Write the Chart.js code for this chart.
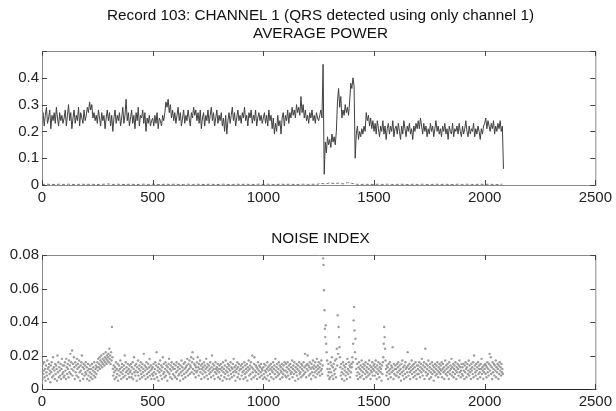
<!DOCTYPE html>
<html>
<head>
<meta charset="utf-8">
<script src="https://cdn.jsdelivr.net/npm/chart.js@4.4.1/dist/chart.umd.min.js"></script>
<style>
  html, body { margin: 0; padding: 0; background: #fff; }
  #wrap { position: relative; width: 616px; height: 411px; overflow: hidden; }
  canvas { position: absolute; left: 0; }
  .ttl { position: absolute; left: 0; width: 641px; text-align: center; font: 15.3px "Liberation Sans", Arial, sans-serif; line-height: 18px; color: #111; white-space: nowrap; }
</style>
</head>
<body>
<div id="wrap">
  <canvas id="c1" width="616" height="215" style="top:0"></canvas>
  <canvas id="c2" width="616" height="196" style="top:215px"></canvas>
  <div class="ttl" style="top:6px">Record 103: CHANNEL 1 (QRS detected using only channel 1)</div>
  <div class="ttl" style="top:24px">AVERAGE POWER</div>
  <div class="ttl" style="top:229px">NOISE INDEX</div>
</div>
<script>
// ---- Data ----
const xTicks = [0, 500, 1000, 1500, 2000, 2500];
const powerTicks = [0, 0.1, 0.2, 0.3, 0.4];
const noiseTicks = [0, 0.02, 0.04, 0.06, 0.08];

// Average power, one block per 100 beats, one value every 5 beats
const powerStep = 5;
const powerBlocks = [
  [.24,.27,.22,.26,.29,.23,.25,.28,.21,.26,.24,.27,.23,.29,.25,.22,.27,.24,.26,.23],
  [.25,.28,.22,.26,.30,.24,.27,.21,.25,.28,.23,.26,.24,.29,.22,.27,.25,.23,.28,.24],
  [.26,.29,.27,.31,.28,.30,.25,.27,.24,.26,.23,.28,.25,.22,.27,.24,.26,.21,.25,.28],
  [.24,.27,.22,.26,.20,.25,.28,.23,.26,.24,.27,.22,.25,.29,.23,.26,.32,.24,.27,.22],
  [.25,.28,.23,.26,.21,.27,.24,.29,.22,.26,.25,.28,.23,.27,.20,.25,.23,.26,.22,.24],
  [.25,.22,.26,.23,.27,.21,.25,.24,.22,.26,.24,.27,.31,.29,.32,.27,.30,.25,.28,.24],
  [.27,.23,.26,.29,.24,.27,.22,.25,.28,.23,.26,.24,.28,.25,.22,.27,.25,.29,.26,.28],
  [.24,.27,.23,.28,.21,.25,.27,.22,.26,.24,.28,.23,.26,.29,.24,.27,.22,.25,.28,.23],
  [.26,.24,.27,.22,.25,.20,.26,.19,.24,.27,.23,.26,.29,.24,.27,.22,.25,.28,.24,.26],
  [.23,.27,.25,.29,.24,.26,.22,.27,.25,.28,.23,.26,.24,.28,.22,.25,.27,.24,.26,.23],
  [.25,.27,.23,.26,.22,.28,.24,.26,.21,.25,.19,.23,.20,.26,.22,.24,.19,.25,.27,.22],
  [.26,.24,.28,.23,.27,.25,.29,.26,.28,.25,.30,.27,.29,.26,.33,.27,.30,.25,.28,.24],
  [.26,.23,.27,.25,.28,.24,.26,.23,.27,.25,.24,.26,.28,.25,.45,.04,.16,.12,.18,.15],
  [.17,.14,.19,.16,.18,.15,.20,.31,.36,.29,.33,.25,.28,.26,.30,.27,.29,.26,.31,.38],
  [.36,.40,.37,.10,.19,.22,.17,.20,.18,.21,.19,.22,.20,.27,.24,.26,.22,.25,.21,.24],
  [.20,.23,.19,.24,.21,.18,.22,.20,.24,.19,.22,.17,.21,.23,.19,.22,.20,.24,.18,.21],
  [.22,.19,.23,.20,.17,.22,.19,.24,.21,.18,.22,.20,.23,.19,.21,.17,.22,.20,.23,.21],
  [.24,.21,.25,.22,.19,.23,.20,.22,.18,.21,.19,.23,.20,.22,.18,.21,.24,.20,.22,.19],
  [.21,.18,.22,.20,.23,.19,.21,.17,.22,.20,.19,.23,.18,.21,.20,.22,.19,.23,.20,.18],
  [.22,.19,.21,.24,.20,.18,.22,.19,.21,.20,.23,.18,.21,.19,.22,.20,.17,.21,.19,.22],
  [.23,.25,.21,.24,.22,.20,.23,.21,.24,.19,.22,.20,.23,.21,.24,.20,.22,.06]
];

// Near-zero trace along the bottom of the power plot, one value every 20 beats
const baseStep = 20;
const baseLevel = [
  .002,.003,.002,.002,.003,.002,.003,.002,.002,.003,.002,.003,.002,.002,.003,.004,.002,.003,.002,.002,
  .003,.002,.002,.003,.002,.003,.002,.002,.003,.002,.003,.002,.002,.003,.002,.003,.002,.002,.003,.002,
  .002,.003,.002,.002,.003,.002,.003,.002,.002,.003,.002,.003,.002,.002,.003,.002,.003,.002,.002,.003,
  .002,.003,.002,.006,.004,.008,.005,.007,.004,.009,.006,.003,.002,.003,.002,.002,.003,.002,.003,.002,
  .002,.003,.002,.002,.003,.002,.003,.002,.002,.003,.002,.003,.002,.002,.003,.002,.003,.002,.002,.003,.002,.003,.002,.002,.003
];

// Noise index, one block per 100 beats, one value every 2 beats
const noiseStep = 2;
const noiseBlocks = [
  [.013,.006,.015,.009,.011,.016,.007,.012,.005,.014,.010,.008,.017,.012,.006,.013,.015,.009,.011,.004,.014,.010,.016,.007,.012,.019,.008,.013,.011,.006,.015,.009,.014,.012,.005,.020,.010,.016,.007,.013,.011,.008,.015,.006,.012,.018,.009,.014,.010,.007],
  [.014,.008,.016,.011,.006,.018,.013,.009,.015,.012,.007,.017,.010,.014,.021,.009,.016,.012,.023,.008,.015,.011,.019,.013,.006,.016,.010,.014,.008,.018,.012,.015,.007,.013,.017,.010,.005,.014,.011,.016,.020,.009,.013,.006,.015,.012,.008,.014,.010,.016],
  [.009,.013,.006,.011,.015,.008,.012,.005,.010,.014,.007,.012,.009,.015,.006,.011,.013,.008,.016,.010,.007,.012,.014,.009,.013,.016,.011,.018,.013,.015,.019,.012,.017,.014,.020,.016,.013,.018,.015,.021,.017,.014,.019,.016,.022,.018,.015,.020,.017,.019],
  [.021,.016,.024,.018,.020,.015,.022,.017,.037,.019,.012,.008,.014,.010,.006,.013,.011,.016,.007,.012,.009,.015,.005,.011,.014,.008,.012,.017,.010,.006,.013,.015,.009,.011,.007,.014,.012,.020,.008,.016,.010,.013,.006,.011,.015,.009,.012,.007,.014,.010],
  [.011,.015,.007,.013,.009,.016,.006,.012,.019,.010,.014,.008,.011,.015,.005,.013,.010,.017,.008,.012,.014,.006,.011,.016,.009,.013,.007,.015,.010,.012,.021,.008,.014,.011,.006,.013,.016,.009,.012,.007,.015,.010,.013,.018,.008,.011,.014,.006,.012,.009],
  [.013,.008,.015,.010,.006,.012,.016,.009,.014,.022,.007,.011,.013,.005,.015,.010,.012,.017,.008,.014,.011,.006,.013,.019,.009,.015,.010,.007,.012,.016,.008,.014,.011,.005,.013,.010,.015,.018,.009,.012,.007,.014,.011,.016,.006,.013,.009,.012,.015,.008],
  [.012,.007,.014,.010,.016,.006,.011,.013,.008,.015,.009,.012,.005,.014,.010,.017,.008,.013,.011,.006,.015,.009,.012,.016,.007,.013,.010,.014,.018,.011,.008,.015,.012,.017,.009,.014,.013,.019,.010,.016,.022,.012,.018,.009,.015,.011,.014,.007,.013,.010],
  [.016,.011,.019,.013,.008,.015,.012,.017,.010,.014,.006,.012,.015,.009,.013,.011,.016,.007,.014,.010,.012,.018,.008,.013,.015,.006,.011,.014,.009,.012,.016,.010,.007,.013,.020,.011,.015,.008,.012,.014,.006,.010,.016,.012,.009,.013,.011,.015,.007,.012],
  [.010,.014,.006,.012,.015,.008,.011,.013,.005,.016,.010,.012,.007,.014,.009,.017,.011,.006,.013,.010,.015,.008,.012,.014,.006,.011,.016,.009,.013,.007,.012,.015,.010,.018,.008,.013,.011,.005,.014,.010,.012,.016,.007,.013,.009,.015,.011,.006,.012,.014],
  [.012,.008,.015,.010,.013,.006,.011,.016,.009,.014,.007,.012,.010,.015,.005,.013,.011,.017,.008,.012,.014,.009,.016,.006,.013,.020,.010,.012,.007,.015,.019,.011,.008,.014,.010,.013,.006,.012,.016,.009,.011,.014,.007,.013,.010,.015,.008,.012,.011,.006],
  [.013,.009,.015,.007,.011,.014,.010,.006,.012,.016,.008,.013,.011,.005,.014,.009,.012,.015,.007,.011,.013,.010,.016,.006,.012,.014,.009,.018,.011,.007,.013,.015,.010,.008,.012,.016,.009,.014,.006,.011,.013,.010,.015,.007,.012,.009,.014,.011,.016,.008],
  [.011,.015,.007,.013,.010,.016,.008,.012,.014,.006,.011,.015,.009,.013,.010,.017,.007,.012,.014,.009,.016,.011,.005,.013,.010,.015,.008,.012,.014,.006,.011,.016,.009,.013,.010,.007,.015,.012,.014,.008,.011,.016,.009,.013,.021,.010,.014,.007,.012,.015],
  [.020,.011,.014,.008,.013,.016,.009,.012,.006,.015,.010,.013,.017,.008,.012,.014,.010,.016,.007,.013,.011,.018,.009,.014,.012,.016,.010,.013,.008,.015,.011,.017,.012,.009,.014,.078,.074,.059,.047,.036,.031,.038,.027,.022,.017,.012,.008,.015,.010,.006],
  [.012,.007,.016,.010,.014,.019,.008,.013,.006,.015,.011,.009,.017,.012,.007,.018,.024,.014,.044,.021,.037,.031,.025,.019,.013,.008,.015,.010,.006,.012,.016,.009,.014,.005,.011,.013,.008,.015,.010,.006,.018,.012,.009,.016,.011,.014,.007,.013,.010,.015],
  [.013,.019,.016,.027,.041,.049,.035,.022,.030,.018,.012,.008,.015,.010,.006,.013,.016,.009,.012,.007,.014,.011,.017,.008,.013,.010,.015,.006,.012,.014,.009,.016,.011,.007,.013,.010,.015,.008,.012,.017,.009,.014,.006,.011,.013,.010,.016,.008,.012,.014],
  [.011,.015,.008,.013,.017,.010,.006,.014,.012,.009,.016,.011,.007,.013,.015,.010,.012,.005,.014,.009,.016,.019,.027,.037,.031,.024,.017,.012,.008,.014,.010,.013,.006,.015,.011,.009,.016,.012,.007,.014,.010,.013,.025,.011,.006,.015,.009,.012,.014,.008],
  [.012,.008,.015,.010,.013,.016,.007,.011,.014,.009,.012,.005,.015,.010,.017,.008,.013,.011,.006,.014,.009,.016,.012,.007,.013,.010,.022,.014,.008,.012,.015,.010,.006,.013,.011,.017,.009,.014,.012,.007,.015,.010,.013,.008,.016,.011,.006,.014,.009,.012],
  [.014,.009,.016,.011,.007,.013,.015,.010,.018,.012,.008,.014,.011,.016,.006,.013,.024,.010,.015,.008,.012,.014,.009,.017,.011,.006,.013,.015,.010,.007,.012,.016,.009,.014,.011,.005,.013,.010,.015,.008,.012,.014,.009,.016,.011,.007,.013,.010,.015,.012],
  [.009,.014,.011,.016,.007,.012,.015,.010,.013,.006,.011,.017,.009,.014,.012,.008,.015,.010,.013,.006,.016,.011,.009,.014,.012,.018,.008,.013,.010,.015,.007,.012,.014,.009,.016,.011,.006,.013,.010,.015,.012,.008,.014,.017,.010,.013,.007,.011,.015,.009],
  [.013,.008,.015,.011,.006,.014,.010,.016,.012,.007,.013,.015,.009,.011,.017,.008,.014,.010,.012,.006,.015,.011,.013,.009,.016,.007,.020,.012,.014,.010,.008,.015,.011,.013,.006,.016,.009,.012,.014,.010,.007,.015,.012,.018,.009,.013,.011,.006,.014,.010],
  [.012,.015,.009,.014,.007,.013,.016,.010,.012,.008,.015,.021,.011,.014,.019,.009,.013,.006,.016,.010,.012,.015,.008,.014,.011,.017,.007,.013,.010,.015,.012,.006,.014,.009,.016,.011,.013,.008,.015,.010,.012,.009]
];

// ---- Build point lists from the blocks ----
function fromBlocks(blocks, step) {
  const pts = [];
  blocks.forEach((blk, k) => blk.forEach((v, i) => pts.push({ x: k * 100 + i * step, y: v })));
  return pts;
}
const powerPts = fromBlocks(powerBlocks, powerStep);
const noisePts = fromBlocks(noiseBlocks, noiseStep);
const basePts = baseLevel.map((v, i) => ({ x: i * baseStep, y: v }));

const FONT = { family: '"Liberation Sans", Arial, sans-serif', size: 15 };

// Box + inward tick marks like MATLAB axes
const framePlugin = {
  id: 'frame',
  afterDraw(chart, args, opts) {
    const { ctx, chartArea: a } = chart;
    const x = chart.scales.x, y = chart.scales.y;
    ctx.save();
    ctx.lineWidth = 1;
    ctx.strokeStyle = '#8a8a8a';
    ctx.beginPath();
    ctx.moveTo(a.left + 0.5, a.bottom + 0.5);
    ctx.lineTo(a.left + 0.5, a.top + 0.5);
    ctx.lineTo(a.right + 0.5, a.top + 0.5);
    ctx.lineTo(a.right + 0.5, a.bottom + 0.5);
    ctx.stroke();
    ctx.strokeStyle = opts.bottomColor || '#8a8a8a';
    ctx.beginPath();
    ctx.moveTo(a.left, a.bottom + 0.5);
    ctx.lineTo(a.right + 1, a.bottom + 0.5);
    ctx.stroke();
    ctx.strokeStyle = '#444';
    ctx.beginPath();
    x.ticks.forEach((t, i) => {
      const px = Math.round(x.getPixelForTick(i)) + 0.5;
      ctx.moveTo(px, a.bottom); ctx.lineTo(px, a.bottom - 5);
      ctx.moveTo(px, a.top); ctx.lineTo(px, a.top + 5);
    });
    y.ticks.forEach((t, i) => {
      const py = Math.round(y.getPixelForTick(i)) + 0.5;
      ctx.moveTo(a.left, py); ctx.lineTo(a.left + 5, py);
      ctx.moveTo(a.right, py); ctx.lineTo(a.right - 5, py);
    });
    ctx.stroke();
    ctx.restore();
  }
};

function xScale(h) {
  return {
    type: 'linear', min: 0, max: 2500,
    afterBuildTicks: s => { s.ticks = xTicks.map(v => ({ value: v })); },
    ticks: { font: FONT, color: '#222', padding: 4, maxRotation: 0, autoSkip: false, callback: v => String(v) },
    grid: { display: false, drawTicks: false },
    border: { display: false },
    afterFit: s => { s.height = h; }
  };
}
function yScale(max, ticks, shown) {
  return {
    type: 'linear', min: 0, max: max,
    afterBuildTicks: s => { s.ticks = ticks.map(v => ({ value: v })); },
    ticks: {
      font: FONT, color: '#222', padding: 3, autoSkip: false,
      callback: v => shown.includes(v) ? String(Number(v.toFixed(3))) : ''
    },
    grid: { display: false, drawTicks: false },
    border: { display: false },
    afterFit: s => { s.width = 42; }
  };
}

new Chart(document.getElementById('c1'), {
  type: 'line',
  data: {
    datasets: [
      { data: basePts, borderColor: '#777', borderWidth: 1, pointRadius: 0, borderDash: [3, 2], tension: 0 },
      { data: powerPts, borderColor: '#404040', borderWidth: 1, pointRadius: 0, tension: 0 }
    ]
  },
  options: {
    responsive: false, animation: false, devicePixelRatio: 1,
    parsing: false, normalized: true,
    layout: { padding: { left: 0, top: 51, right: 17, bottom: 0 } },
    plugins: { legend: { display: false }, tooltip: { enabled: false }, title: { display: false }, frame: { bottomColor: '#8a8a8a' } },
    scales: { x: xScale(30), y: yScale(0.5, powerTicks.concat([0.5]), powerTicks) }
  },
  plugins: [framePlugin]
});

new Chart(document.getElementById('c2'), {
  type: 'scatter',
  data: {
    datasets: [
      { data: noisePts, backgroundColor: '#9c9c9c', borderWidth: 0, pointRadius: 1.2, pointStyle: 'circle' }
    ]
  },
  options: {
    responsive: false, animation: false, devicePixelRatio: 1,
    parsing: false, normalized: true,
    layout: { padding: { left: 0, top: 40, right: 17, bottom: 0 } },
    plugins: { legend: { display: false }, tooltip: { enabled: false }, title: { display: false }, frame: { bottomColor: '#222' } },
    scales: { x: xScale(22), y: yScale(0.08, noiseTicks, noiseTicks) }
  },
  plugins: [framePlugin]
});
</script>
</body>
</html>
